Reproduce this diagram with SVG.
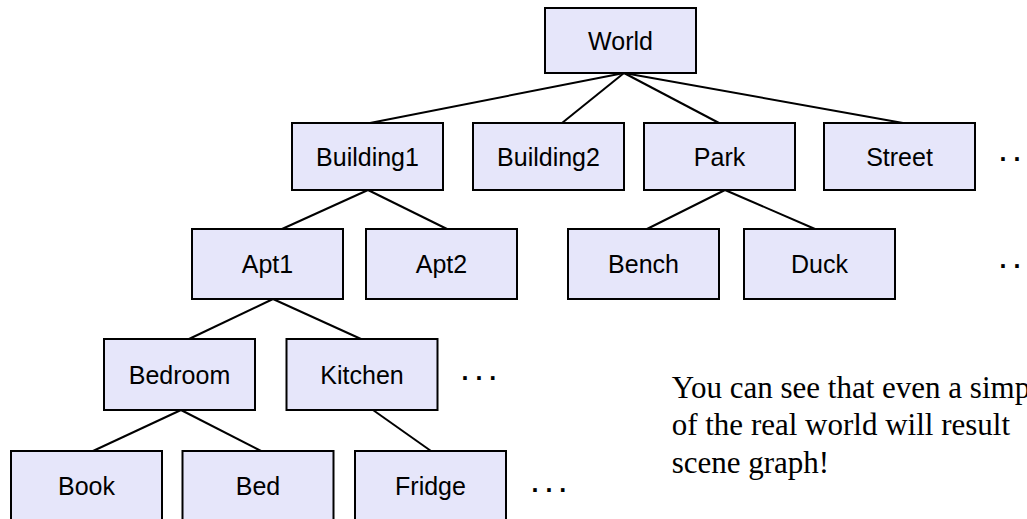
<svg xmlns="http://www.w3.org/2000/svg" width="1027" height="519" viewBox="0 0 1027 519">
<style>
.box{fill:#e6e6fa;stroke:#000;stroke-width:2}
.lbl{font-family:"Liberation Sans",Arial,sans-serif;font-size:25px;fill:#000;text-anchor:middle}
.dots{font-family:"Liberation Sans",Arial,sans-serif;font-size:25px;font-weight:bold;fill:#000}
.note{font-family:"Liberation Serif","Times New Roman",serif;font-size:31px;fill:#000}
#connectors line{stroke:#000;stroke-width:2}
</style>
<rect width="1027" height="519" fill="#fff"/>
<g id="connectors">
<line x1="624" y1="73" x2="370" y2="123"/>
<line x1="624" y1="73" x2="562" y2="123"/>
<line x1="624" y1="73" x2="719" y2="123"/>
<line x1="624" y1="73" x2="903" y2="123"/>
<line x1="368" y1="190" x2="282" y2="229"/>
<line x1="368" y1="190" x2="447" y2="229"/>
<line x1="725" y1="190" x2="647" y2="229"/>
<line x1="725" y1="190" x2="815" y2="229"/>
<line x1="273" y1="299" x2="189" y2="339"/>
<line x1="273" y1="299" x2="361" y2="339"/>
<line x1="181" y1="410" x2="93" y2="451"/>
<line x1="181" y1="410" x2="261" y2="451"/>
<line x1="373" y1="410" x2="431" y2="451"/>
</g>
<g id="world"><rect class="box" x="545" y="8" width="151" height="65"/><text class="lbl" x="620.5" y="49.5">World</text></g>
<g id="building1"><rect class="box" x="292" y="123" width="151" height="67"/><text class="lbl" x="367.5" y="165.5">Building1</text></g>
<g id="building2"><rect class="box" x="473" y="123" width="151" height="67"/><text class="lbl" x="548.5" y="165.5">Building2</text></g>
<g id="park"><rect class="box" x="644" y="123" width="151" height="67"/><text class="lbl" x="719.5" y="165.5">Park</text></g>
<g id="street"><rect class="box" x="824" y="123" width="151" height="67"/><text class="lbl" x="899.5" y="165.5">Street</text></g>
<g id="apt1"><rect class="box" x="192" y="229" width="151" height="70"/><text class="lbl" x="267.5" y="273">Apt1</text></g>
<g id="apt2"><rect class="box" x="366" y="229" width="151" height="70"/><text class="lbl" x="441.5" y="273">Apt2</text></g>
<g id="bench"><rect class="box" x="568" y="229" width="151" height="70"/><text class="lbl" x="643.5" y="273">Bench</text></g>
<g id="duck"><rect class="box" x="744" y="229" width="151" height="70"/><text class="lbl" x="819.5" y="273">Duck</text></g>
<g id="bedroom"><rect class="box" x="104" y="339" width="151" height="71"/><text class="lbl" x="179.5" y="383.5">Bedroom</text></g>
<g id="kitchen"><rect class="box" x="286.5" y="339" width="151" height="71"/><text class="lbl" x="362" y="383.5">Kitchen</text></g>
<g id="book"><rect class="box" x="11" y="451" width="151" height="72"/><text class="lbl" x="86.5" y="495">Book</text></g>
<g id="bed"><rect class="box" x="182.5" y="451" width="151" height="72"/><text class="lbl" x="258" y="495">Bed</text></g>
<g id="fridge"><rect class="box" x="355" y="451" width="151" height="72"/><text class="lbl" x="430.5" y="495">Fridge</text></g>
<g id="ellipses">
<text class="dots" x="999.5" y="161">. .</text>
<text class="dots" x="999.5" y="268">. .</text>
<text class="dots" x="461.5" y="379.7">. . .</text>
<text class="dots" x="531.5" y="492">. . .</text>
</g>
<g id="note">
<text class="note" x="671.7" y="397.5">You can see that even a simp</text>
<text class="note" x="671.7" y="435">of the real world will result</text>
<text class="note" x="671.7" y="472.5">scene graph!</text>
</g>
</svg>
